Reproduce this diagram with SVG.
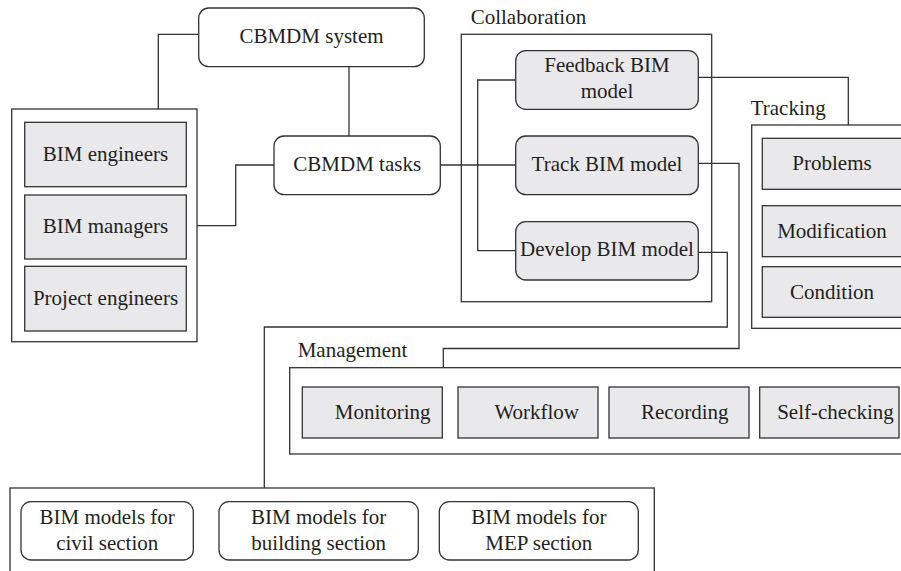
<svg xmlns="http://www.w3.org/2000/svg" width="901" height="571" viewBox="0 0 901 571">
<style>
.box{fill:#ffffff;stroke:#333333;stroke-width:1.3}
.grp{fill:#ffffff;stroke:#333333;stroke-width:1.3}
.g{fill:#e9e9eb;stroke:#333333;stroke-width:1.3}
.c{fill:none;stroke:#333333;stroke-width:1.3}
.m{text-anchor:middle}
</style>
<rect width="901" height="571" fill="#ffffff"/>
<g id="connectors">
<path class="c" d="M198.7,34.3 H158.3 V109"/>
<path class="c" d="M349,66.7 V136"/>
<path class="c" d="M274,165 H235.7 V225.7 H197"/>
<path class="c" d="M440.3,165 H515.7"/>
<path class="c" d="M515.7,80 H477.7 V250.7 H515.7"/>
<path class="c" d="M698.3,77.3 H848.3 V125"/>
<path class="c" d="M698.3,163.3 H739 V348.5 H443.3 V367.7"/>
<path class="c" d="M698.3,252.3 H727.3 V327 H264.3 V488"/>
</g>
<g font-family="Liberation Serif, Times New Roman, Times, serif" font-size="21" fill="#231f20">
<g id="system">
<rect class="box" x="198.7" y="8" width="225.6" height="58.7" rx="10"/>
<text class="m" x="311.5" y="42.5">CBMDM system</text>
</g>
<g id="people">
<rect class="grp" x="11.7" y="109" width="185.3" height="232.7"/>
<g id="bim-engineers">
<rect class="g" x="24.7" y="122.3" width="161.6" height="64.4"/>
<text class="m" x="105.5" y="161">BIM engineers</text>
</g>
<g id="bim-managers">
<rect class="g" x="24.7" y="195" width="161.6" height="64"/>
<text class="m" x="105.5" y="233.3">BIM managers</text>
</g>
<g id="project-engineers">
<rect class="g" x="24.7" y="266.3" width="161.6" height="64.7"/>
<text class="m" x="105.5" y="305">Project engineers</text>
</g>
</g>
<g id="tasks">
<rect class="box" x="274" y="136" width="166.3" height="58.7" rx="10"/>
<text class="m" x="357.2" y="170.5">CBMDM tasks</text>
</g>
<g id="collaboration">
<text x="470.7" y="24">Collaboration</text>
<rect x="461.3" y="34.3" width="250.4" height="267.4" fill="none" stroke="#333333" stroke-width="1.3"/>
<g id="feedback">
<rect class="g" x="515.7" y="50.7" width="182.6" height="58.6" rx="10"/>
<text class="m" x="607" y="71.7">Feedback BIM</text>
<text class="m" x="607" y="97.7">model</text>
</g>
<g id="track">
<rect class="g" x="515.7" y="136" width="182.6" height="58.7" rx="10"/>
<text class="m" x="607" y="170.7">Track BIM model</text>
</g>
<g id="develop">
<rect class="g" x="515.7" y="221.7" width="182.6" height="58.3" rx="10"/>
<text class="m" x="607" y="256">Develop BIM model</text>
</g>
</g>
<g id="tracking">
<text x="750.7" y="115">Tracking</text>
<rect class="grp" x="751.7" y="125" width="160" height="203.3"/>
<g id="problems">
<rect class="g" x="762.3" y="138.3" width="150" height="51"/>
<text class="m" x="832" y="170">Problems</text>
</g>
<g id="modification">
<rect class="g" x="762.3" y="205.7" width="150" height="51"/>
<text class="m" x="832" y="238">Modification</text>
</g>
<g id="condition">
<rect class="g" x="762.3" y="266.7" width="150" height="50.6"/>
<text class="m" x="832" y="299">Condition</text>
</g>
</g>
<g id="management">
<text x="297.7" y="357.3">Management</text>
<rect class="grp" x="289.7" y="367.7" width="625" height="86.3"/>
<g id="monitoring">
<rect class="g" x="302.3" y="387" width="140" height="51"/>
<text class="m" x="382.7" y="419">Monitoring</text>
</g>
<g id="workflow">
<rect class="g" x="458" y="387" width="140" height="51"/>
<text class="m" x="536.7" y="419">Workflow</text>
</g>
<g id="recording">
<rect class="g" x="609" y="387" width="140" height="51"/>
<text class="m" x="684.8" y="419">Recording</text>
</g>
<g id="self-checking">
<rect class="g" x="759.7" y="387" width="139.3" height="51"/>
<text class="m" x="835.5" y="419">Self-checking</text>
</g>
</g>
<g id="models">
<rect class="grp" x="10" y="488" width="644.3" height="100"/>
<g id="civil">
<rect class="box" x="21" y="501.7" width="172.3" height="58.3" rx="10"/>
<text class="m" x="107.2" y="524">BIM models for</text>
<text class="m" x="107.2" y="550">civil section</text>
</g>
<g id="building">
<rect class="box" x="219" y="501.7" width="199.3" height="58.3" rx="10"/>
<text class="m" x="318.7" y="524">BIM models for</text>
<text class="m" x="318.7" y="550">building section</text>
</g>
<g id="mep">
<rect class="box" x="439.3" y="501.7" width="199" height="58.3" rx="10"/>
<text class="m" x="538.8" y="524">BIM models for</text>
<text class="m" x="538.8" y="550">MEP section</text>
</g>
</g>
</g>
</svg>
